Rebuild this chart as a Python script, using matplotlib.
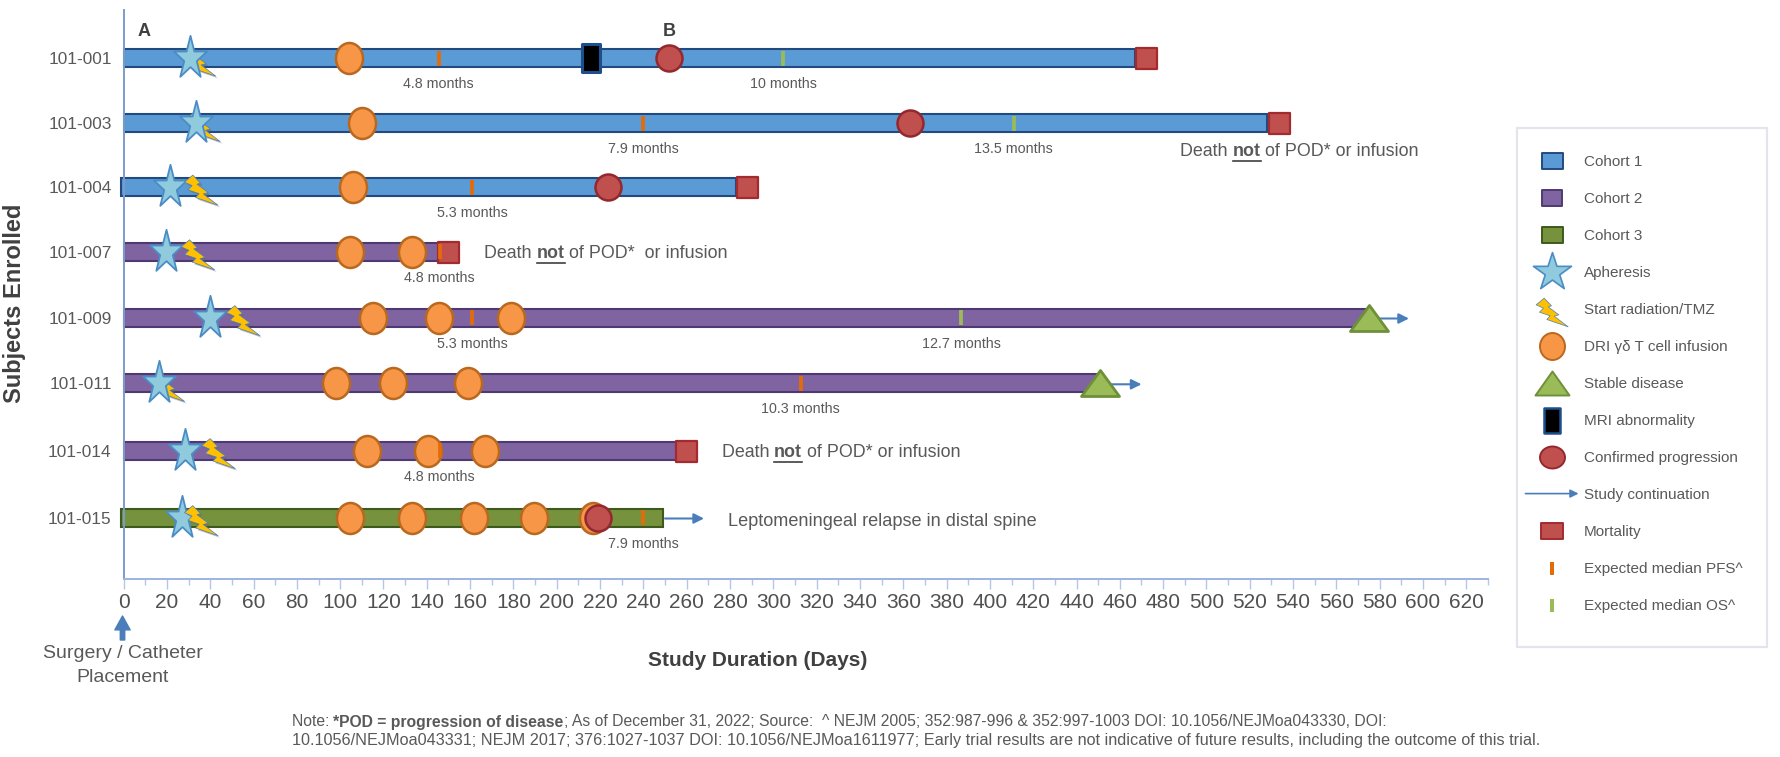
import numpy as np
import matplotlib
matplotlib.use("Agg")
import matplotlib.pyplot as plt
from matplotlib.path import Path
from matplotlib.lines import Line2D
from matplotlib.patches import Rectangle, FancyArrowPatch
from matplotlib.legend_handler import HandlerBase
from matplotlib import patheffects as pe

plt.rcParams['font.family'] = ['Liberation Sans', 'DejaVu Sans']

# ---------- data ----------
subjects = ['101-001', '101-003', '101-004', '101-007', '101-009', '101-011', '101-014', '101-015']
cohort = [1, 1, 1, 2, 2, 2, 2, 3]
bar_start = [0, 0, -1, 0, 0, 0, 0, -1]
bar_end = [467, 528, 283, 146, 575, 451, 255, 249]
apheresis = [30.6, 33.3, 21.4, 19.5, 40, 16.4, 28.4, 26.8]
radiation = [35, 37, 36, 34.5, 55.4, 20.6, 44, 36]
star_above_bolt = [True, True, False, False, False, True, False, False]
infusions = [[104], [110], [105.7], [104.6, 133], [115, 145.7, 179], [98, 124.3, 159],
             [112.4, 140.6, 167], [104.6, 133, 162, 189.6, 216.7]]
progression = {0: 252, 1: 363, 2: 223.6, 7: 219}
mri = {0: 215.8}
mortality = {0: 472, 1: 533.5, 2: 288, 3: 150, 6: 259.7}
stable = {4: 575, 5: 451}
arrows = {4: (578, 593.5), 5: (454, 470), 7: (250, 268)}
pfs = {0: (145.5, '4.8 months'), 1: (240, '7.9 months'), 2: (161, '5.3 months'), 3: (146, '4.8 months'),
       4: (161, '5.3 months'), 5: (312.6, '10.3 months'), 6: (146, '4.8 months'), 7: (240, '7.9 months')}
os_mark = {0: (304.5, '10 months'), 1: (411, '13.5 months'), 4: (386.7, '12.7 months')}
legend_labels = ['Cohort 1', 'Cohort 2', 'Cohort 3', 'Apheresis', 'Start radiation/TMZ',
                 'DRI γδ T cell infusion', 'Stable disease', 'MRI abnormality',
                 'Confirmed progression', 'Study continuation', 'Mortality',
                 'Expected median PFS^', 'Expected median OS^']

# ---------- layout / style ----------
W, H = 1780, 757
row_y = [58, 123.3, 187, 251.7, 317.5, 383.3, 450.5, 517.5]
TXT = '#595959'
DARK = '#404040'
cohort_fc = {1: '#5B9BD5', 2: '#8064A2', 3: '#76923C'}
cohort_ec = {1: '#234a80', 2: '#4e3a72', 3: '#3d5a1c'}
STAR_FC, STAR_EC = '#8FCADD', '#4A8CC6'
BOLT_FC, BOLT_EC = '#FFC000', '#4A7EBB'
INF_FC, INF_EC = '#F79646', '#B9681F'
PRG_FC, PRG_EC = '#C0504D', '#94282F'
TRI_FC, TRI_EC = '#9BBB59', '#6E9039'
ARW = '#4A7EBB'
PFS_C, OS_C = '#E36C09', '#9BBB59'
PX = 0.72  # points per pixel at dpi 100


def shape(verts):
    """Custom marker from vertices given in pixels about the marker centre."""
    v = np.asarray(verts, float)
    v = np.vstack([v, v[0]])
    codes = [Path.MOVETO] + [Path.LINETO] * (len(v) - 2) + [Path.CLOSEPOLY]
    return Path(v, codes), 2 * np.abs(v).max() * PX


def ellipse(w, h):
    c = Path.unit_circle()
    v = c.vertices * [w / 2, h / 2]
    return Path(v, c.codes), max(w, h) * PX


def box(w, h):
    return shape([(-w/2, -h/2), (w/2, -h/2), (w/2, h/2), (-w/2, h/2)])


def tri(w, h):
    return shape([(-w/2, -h/2), (w/2, -h/2), (0, h/2)])


def star(w, h):
    s = Path.unit_regular_star(5, 0.382)
    v = s.vertices * [w / 1.902, h / 1.809]
    return Path(v, s.codes), 2 * np.abs(v).max() * PX


bolt_z = np.array([(106, 52), (130, 32), (152, 55), (142, 58), (174, 82), (160, 86),
                   (202, 118), (138, 96), (148, 85), (116, 74), (128, 62)], float)
bolt_px = np.c_[(bolt_z[:, 0] - 155) / 3, (66 - bolt_z[:, 1]) / 3]


def scaled_bolt(f):
    return shape(bolt_px * f)


STYLE = {
    'star': (star(33, 41), STAR_FC, STAR_EC, 1.3),
    'bolt': (scaled_bolt(1.05), BOLT_FC, BOLT_EC, 0.5),
    'inf': (ellipse(27, 31), INF_FC, INF_EC, 1.8),
    'prg': (ellipse(26, 26), PRG_FC, PRG_EC, 1.8),
    'tri': (tri(38, 26), TRI_FC, TRI_EC, 2.0),
    'mri': (box(18, 28), 'black', '#1F4E8C', 2.2),
    'mort': (box(21, 21), PRG_FC, '#A32A2F', 1.6),
}

fig = plt.figure(figsize=(W / 100, H / 100), dpi=100, facecolor='white')
ax = fig.add_axes([123.6 / W, 1 - 579 / H, (1488 - 123.6) / W, (579 - 10) / H])
ax.set_xlim(0, 630)
ax.set_ylim(579, 10)
ax.set_facecolor('none')


def mark(x, y, key, z):
    (p, ms), fc, ec, mew = STYLE[key]
    return ax.plot([x], [y], linestyle='none', marker=p, ms=ms, mfc=fc, mec=ec, mew=mew,
                   zorder=z, clip_on=False)[0]


# bars
for i, y in enumerate(row_y):
    ax.barh(y, bar_end[i] - bar_start[i], left=bar_start[i], height=18,
            color=cohort_fc[cohort[i]], edgecolor=cohort_ec[cohort[i]], linewidth=1.5,
            zorder=2, clip_on=False)

# events
for i, y in enumerate(row_y):
    for d in infusions[i]:
        mark(d, y, 'inf', 3)
    b = mark(radiation[i], y, 'bolt', 4 if star_above_bolt[i] else 5)
    b.set_path_effects([pe.SimplePatchShadow(offset=(1.5, -1.5), shadow_rgbFace='#666666', alpha=0.45), pe.Normal()])
    mark(apheresis[i], y, 'star', 4.5)
    if i in progression:
        mark(progression[i], y, 'prg', 3.5)
    if i in mri:
        mark(mri[i], y, 'mri', 3.5)
    if i in mortality:
        mark(mortality[i], y, 'mort', 3.2)
    if i in stable:
        mark(stable[i], y, 'tri', 3.6)
    if i in arrows:
        a, b2 = arrows[i]
        ax.annotate('', xy=(b2, y + 1), xytext=(a, y + 1), zorder=1.5, annotation_clip=False,
                    arrowprops=dict(arrowstyle='-|>', color=ARW, lw=1.5, mutation_scale=15,
                                    shrinkA=0, shrinkB=0))
    if i in pfs:
        d, lab = pfs[i]
        ax.vlines(d, y - 7.5, y + 7.5, color=PFS_C, lw=2.7, zorder=6)
        ax.text(d, y + 26, lab, ha='center', va='center', fontsize=10.3, color=TXT)
    if i in os_mark:
        d, lab = os_mark[i]
        ax.vlines(d, y - 7.5, y + 7.5, color=OS_C, lw=2.7, zorder=6)
        ax.text(d, y + 26, lab, ha='center', va='center', fontsize=10.3, color=TXT)

# axes
for s in ('top', 'right'):
    ax.spines[s].set_visible(False)
ax.spines['left'].set_color('#7C9CCB')
ax.spines['left'].set_linewidth(1.4)
ax.spines['bottom'].set_color('#9DB6E0')
ax.spines['bottom'].set_linewidth(1.4)
ax.set_xticks(np.arange(0, 621, 20))
ax.set_xticks(np.arange(10, 631, 20), minor=True)
ax.tick_params(axis='x', which='major', length=7, width=1, color='#B4C7E7', labelsize=15, labelcolor='#505050', pad=3)
ax.tick_params(axis='x', which='minor', length=4, width=1, color='#B4C7E7')
ax.set_yticks(row_y)
ax.set_yticklabels(subjects, fontsize=12.4, color=TXT)
ax.tick_params(axis='y', length=0, pad=8.6)


def ftext(x, y, s, **kw):
    kw.setdefault('va', 'center')
    kw.setdefault('color', TXT)
    return fig.text(x / W, 1 - y / H, s, **kw)


def rich(x, y, parts, size):
    r = fig.canvas.get_renderer()
    for s, bold, ul in parts:
        t = ftext(x, y, s, fontsize=size, fontweight='bold' if bold else 'normal', ha='left')
        t.set_parse_math(False)
        w = t.get_window_extent(r)
        # include trailing spaces in the advance
        adv = r.get_text_width_height_descent(s.replace(' ', '\u00a0'), t.get_fontproperties(), False)[0]
        if ul:
            fig.add_artist(Line2D([x / W, (x + w.width) / W], [1 - (y + size * 0.72) / H] * 2,
                                  color=DARK, lw=1.2))
        x += adv


ftext(15, 303, 'Subjects Enrolled', rotation=90, ha='center', fontsize=17, fontweight='bold', color=DARK)
ftext(758, 661, 'Study Duration (Days)', ha='center', fontsize=15, fontweight='bold', color=DARK)
ftext(144, 31.7, 'A', ha='center', fontsize=13, fontweight='bold', color=DARK)
ftext(669, 31.7, 'B', ha='center', fontsize=13, fontweight='bold', color=DARK)
ftext(122.8, 654, 'Surgery / Catheter', ha='center', fontsize=14)
ftext(122.8, 678, 'Placement', ha='center', fontsize=14)
ax.annotate('', xy=(-0.5, 616), xytext=(-0.5, 640), annotation_clip=False,
            arrowprops=dict(width=3.2, headwidth=11, headlength=10, color=ARW, shrink=0))

DEATH = [('Death ', False, False), ('not', True, True), (' of POD* or infusion', False, False)]
rich(1180, 152, DEATH, 12.9)
rich(484, 254, [('Death ', False, False), ('not', True, True), (' of POD*  or infusion', False, False)], 12.9)
rich(721.6, 453, DEATH, 12.9)
ftext(728, 521, 'Leptomeningeal relapse in distal spine', ha='left', fontsize=13.1)

rich(291.5, 722, [('Note: ', False, False), ('*POD = progression of disease', True, False),
                  ('; As of December 31, 2022; Source:  ^ NEJM 2005; 352:987-996 & 352:997-1003 DOI: 10.1056/NEJMoa043330, DOI:', False, False)], 11.3)
ftext(291.5, 741, '10.1056/NEJMoa043331; NEJM 2017; 376:1027-1037 DOI: 10.1056/NEJMoa1611977; Early trial results are not indicative of future results, including the outcome of this trial.',
      ha='left', fontsize=11.68)

# legend
fig.add_artist(Rectangle((1517 / W, 1 - 647 / H), 250 / W, 519 / H, transform=fig.transFigure,
                         fc='white', ec='#E4E4EE', lw=1.6, zorder=0))


def h_marker(pm, fc, ec, mew):
    p, ms = pm
    return Line2D([], [], linestyle='none', marker=p, ms=ms, mfc=fc, mec=ec, mew=mew)


class ArrowHandle:
    pass


class HandlerArrow(HandlerBase):
    def create_artists(self, legend, orig, xd, yd, width, height, fontsize, trans):
        y = height / 2 - yd
        a = FancyArrowPatch((-xd - 4, y), (width + 4, y), arrowstyle='-|>', color=ARW, lw=1.2,
                            mutation_scale=12, shrinkA=0, shrinkB=0, transform=trans)
        return [a]


arrow_handle = ArrowHandle()
handles = [
    h_marker(box(21, 16), cohort_fc[1], cohort_ec[1], 1.4),
    h_marker(box(20, 16), cohort_fc[2], cohort_ec[2], 1.4),
    h_marker(box(21, 16), cohort_fc[3], cohort_ec[3], 1.4),
    h_marker(star(38, 36), STAR_FC, STAR_EC, 1.2),
    h_marker(scaled_bolt(1.0), BOLT_FC, BOLT_EC, 0.5),
    h_marker(ellipse(25, 27), INF_FC, INF_EC, 1.4),
    h_marker(tri(34, 24), TRI_FC, TRI_EC, 1.4),
    h_marker(box(16, 25), 'black', '#1F4E8C', 1.8),
    h_marker(ellipse(25, 22), PRG_FC, PRG_EC, 1.4),
    arrow_handle,
    h_marker(box(22, 16), PRG_FC, '#A32A2F', 1.4),
    h_marker(box(3.3, 13), PFS_C, PFS_C, 0),
    h_marker(box(3.3, 13), OS_C, OS_C, 0),
]
leg = fig.legend(handles, legend_labels, handler_map={arrow_handle: HandlerArrow()},
                 loc='upper left', bbox_to_anchor=(1531 / W, 1 - 155 / H), borderaxespad=0, borderpad=0,
                 frameon=False, fontsize=11, handlelength=2.75, handletextpad=0.7,
                 labelspacing=1.505, labelcolor=TXT, numpoints=1)
leg.set_zorder(3)

fig.savefig('out.png', dpi=100)
